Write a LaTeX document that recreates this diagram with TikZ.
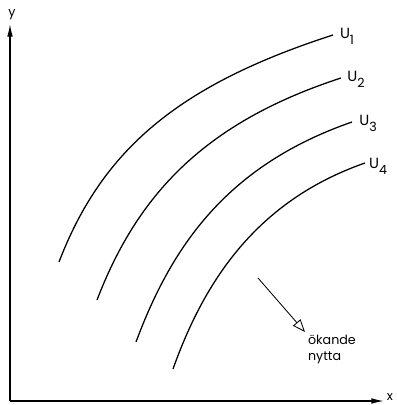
\documentclass[tikz,border=0pt]{standalone}
\usepackage{fontspec}
\setmainfont{Poppins}
\usetikzlibrary{arrows.meta}
\begin{document}
\begin{tikzpicture}[x=0.025cm, y=-0.025cm, font=\fontsize{9}{11.5}\selectfont,
		kurva/.style={line width=0.9pt},
		ulab/.style={font=\fontsize{10.5}{10}\selectfont},
		axel/.style={line width=0.9pt, -{Latex[length=9pt,width=4pt]}}]
		\useasboundingbox (0,0) rectangle (396,405);
		% axlar
		\coordinate (o) at (10,401);
		\node (ylab) at (12,15) {y};
		\node[inner sep=0pt] (xlab) at (390,397) {x};
		\draw[axel] (o) -- (10,24) coordinate (ytop);
		\draw[axel] (o) -- (384,401) coordinate (xtop);
		% indifferenskurvor
		\draw[kurva] (59,262) coordinate (u1s) .. controls (102,150) and (178,85) .. (333,35) coordinate (u1e);
		\draw[kurva] (97,300) coordinate (u2s) .. controls (137,196) and (203,123) .. (341,78) coordinate (u2e);
		\draw[kurva] (136,342) coordinate (u3s) .. controls (172,245) and (228,165) .. (352,122) coordinate (u3e);
		\draw[kurva] (173,369) coordinate (u4s) .. controls (204,282) and (256,201) .. (365,163) coordinate (u4e);
		\foreach \n/\lx/\ly in {1/347/36, 2/356/79, 3/368/123, 4/378/166}
			\node[ulab] (u\n) at (\lx,\ly) {U\raisebox{-0.75ex}{\fontsize{9}{9}\selectfont\n}};
		% pil
		\coordinate (pil) at (258,278);
		\node[anchor=north west, align=left, inner sep=2pt] (nytta) at (305,332) {ökande\\nytta};
		\draw[line width=0.6pt, -{Triangle[open,length=9pt,width=7pt]}] (pil) -- (nytta.north west);
	\end{tikzpicture}
\end{document}
